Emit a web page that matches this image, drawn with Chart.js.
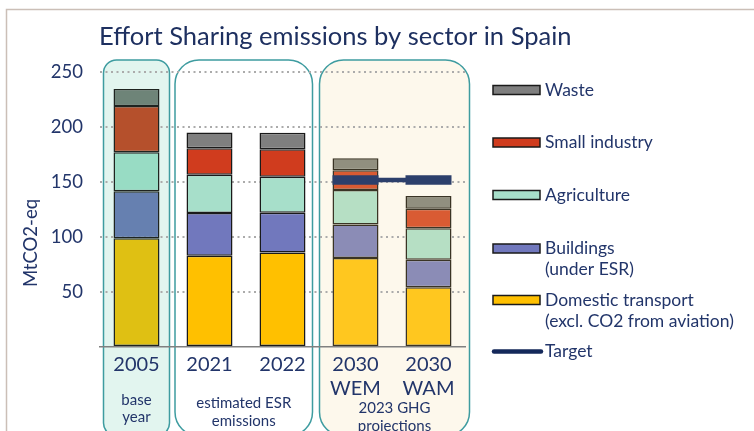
<!DOCTYPE html>
<html>
<head>
<meta charset="utf-8">
<script src="https://cdn.jsdelivr.net/npm/chart.js@4.4.1/dist/chart.umd.min.js"></script>
<style>
  html, body { margin: 0; padding: 0; background: #ffffff; }
  #wrap { width: 754px; height: 431px; position: relative; }
</style>
</head>
<body>
<div id="wrap"><canvas id="c" width="754" height="431"></canvas></div>
<script>
// ---------------- DATA ----------------
const categories = [['2005'], ['2021'], ['2022'], ['2030', 'WEM'], ['2030', 'WAM']];
const seriesNames = ['Domestic transport', 'Buildings', 'Agriculture', 'Small industry', 'Waste'];
const transport     = [98.8, 83.0, 86.0, 81.0, 54.3];
const buildings     = [42.7, 38.8, 36.1, 30.3, 25.1];
const agriculture   = [35.5, 34.9, 32.7, 31.5, 28.5];
const smallIndustry = [42.0, 23.9, 24.9, 17.9, 17.8];
const waste         = [15.5, 14.4, 15.1, 10.9, 11.6];
const target        = [null, null, null, 151.8, 151.8];
const yTicks = [0, 50, 100, 150, 200, 250];
const legendLabels = [
  ['Waste'],
  ['Small industry'],
  ['Agriculture'],
  ['Buildings', '(under ESR)'],
  ['Domestic transport', '(excl. CO2 from aviation)'],
  ['Target']
];
const groupLabels = [['base', 'year'], ['estimated ESR', 'emissions'], ['2023 GHG', 'projections']];
const groupSpans = [[0, 0], [1, 2], [3, 4]];
const titleText = 'Effort Sharing emissions by sector in Spain';
const yTitleText = 'MtCO2-eq';

// ---------------- STYLES ----------------
const NAVY = '#22356a';
const FONT = 'Lato, "Open Sans", sans-serif';
const colTransport = ['#dfc013', '#ffc000', '#ffc000', '#ffc71f', '#ffc71f'];
const colBuildings = ['#6680b0', '#7178bd', '#7178bd', '#8b8cb6', '#8b8cb6'];
const colAgri      = ['#98dcc4', '#a7dfca', '#a7dfca', '#b6dfc4', '#b6dfc4'];
const colSI        = ['#b5502c', '#d03c1e', '#d03c1e', '#d95b33', '#d95b33'];
const colWaste     = ['#6e8478', '#7f7f7f', '#7f7f7f', '#918f7f', '#918f7f'];
const edgeCols     = ['#1e2420', '#1a1a1a', '#1a1a1a', '#3a3425', '#3a3425'];
const legendColors = ['#7f7f7f', '#d03c1e', '#a7dfca', '#7178bd', '#ffc000'];
const legendY = [90, 142.5, 195, 248.5, 300, 351.5];
const boxStyles = [
  { l: -33, r: 33, rad: 13, fill: '#e2f5ef' },
  { l: -34.5, r: 30, rad: 24, fill: '#ffffff' },
  { l: -36, r: 41, rad: 24, fill: '#fdf8ec' }
];
const groupLabelY = [[400, 417], [403, 421], [408, 426]];

function barDS(label, data, colors) {
  return {
    type: 'bar', label, data, backgroundColor: colors, borderColor: edgeCols,
    borderWidth: 1.5, borderSkipped: false, stack: 's', order: 1,
    barPercentage: 0.63, categoryPercentage: 1.0
  };
}

function rr(ctx, x, y, w, h, r) {
  ctx.beginPath();
  ctx.moveTo(x + r, y);
  ctx.lineTo(x + w - r, y);
  ctx.arcTo(x + w, y, x + w, y + r, r);
  ctx.lineTo(x + w, y + h - r);
  ctx.arcTo(x + w, y + h, x + w - r, y + h, r);
  ctx.lineTo(x + r, y + h);
  ctx.arcTo(x, y + h, x, y + h - r, r);
  ctx.lineTo(x, y + r);
  ctx.arcTo(x, y, x + r, y, r);
  ctx.closePath();
}

const decor = {
  id: 'decor',
  beforeDraw(chart) {
    const ctx = chart.ctx;
    const xs = chart.scales.x;
    ctx.save();
    ctx.fillStyle = '#ffffff';
    ctx.fillRect(0, 0, chart.width, chart.height);
    // frame
    ctx.strokeStyle = '#cbbfb7';
    ctx.lineWidth = 1.5;
    ctx.beginPath();
    ctx.moveTo(6.5, 431);
    ctx.lineTo(6.5, 9.5);
    ctx.lineTo(754, 9.5);
    ctx.stroke();
    // group boxes
    groupSpans.forEach((sp, i) => {
      const st = boxStyles[i];
      const x0 = xs.getPixelForValue(sp[0]) + st.l;
      const x1 = xs.getPixelForValue(sp[1]) + st.r;
      rr(ctx, x0, 60, x1 - x0, 376, st.rad);
      ctx.fillStyle = st.fill;
      ctx.fill();
      ctx.strokeStyle = '#3e9ca0';
      ctx.lineWidth = 1.5;
      ctx.stroke();
    });
    ctx.restore();
  },
  afterDraw(chart) {
    const ctx = chart.ctx;
    const xs = chart.scales.x;
    ctx.save();
    // title
    ctx.fillStyle = '#1e3060';
    ctx.font = '400 25.5px ' + FONT;
    ctx.textAlign = 'left';
    ctx.textBaseline = 'alphabetic';
    ctx.fillText(titleText, 99, 45);
    // y title
    ctx.save();
    ctx.translate(31, 243);
    ctx.rotate(-Math.PI / 2);
    ctx.textAlign = 'center';
    ctx.textBaseline = 'middle';
    ctx.font = '400 18.5px ' + FONT;
    ctx.fillStyle = NAVY;
    ctx.fillText(yTitleText, 0, 0);
    ctx.restore();
    // group labels
    ctx.font = '400 15px ' + FONT;
    ctx.fillStyle = NAVY;
    ctx.textAlign = 'center';
    ctx.textBaseline = 'middle';
    groupSpans.forEach((sp, i) => {
      const st = boxStyles[i];
      const x0 = xs.getPixelForValue(sp[0]) + st.l;
      const x1 = xs.getPixelForValue(sp[1]) + st.r;
      groupLabels[i].forEach((t, j) => ctx.fillText(t, (x0 + x1) / 2, groupLabelY[i][j]));
    });
    // legend
    ctx.textAlign = 'left';
    ctx.font = '400 17.5px ' + FONT;
    legendLabels.forEach((lines, i) => {
      const y = legendY[i];
      if (i < legendColors.length) {
        ctx.fillStyle = legendColors[i];
        ctx.fillRect(493, y - 4.5, 47, 9);
        ctx.strokeStyle = '#1a1a1a';
        ctx.lineWidth = 1.5;
        ctx.strokeRect(493, y - 4.5, 47, 9);
      } else {
        ctx.strokeStyle = '#14285a';
        ctx.lineWidth = 4.5;
        ctx.lineCap = 'round';
        ctx.beginPath();
        ctx.moveTo(494, y);
        ctx.lineTo(541, y);
        ctx.stroke();
      }
      ctx.fillStyle = NAVY;
      lines.forEach((t, j) => ctx.fillText(t, 545, y + j * 21));
    });
    ctx.restore();
  }
};

new Chart(document.getElementById('c'), {
  data: {
    labels: categories,
    datasets: [
      {
        type: 'line', label: 'Target', data: target, stack: 't', order: 0,
        borderColor: '#2c3f6b', borderWidth: 4.5, borderCapStyle: 'butt',
        pointStyle: 'line', pointRadius: 23, pointHoverRadius: 23,
        pointBorderWidth: 9.5, pointHoverBorderWidth: 9.5, pointBorderColor: '#2c3f6b',
        pointBackgroundColor: '#2c3f6b', spanGaps: false, fill: false
      },
      barDS(seriesNames[0], transport, colTransport),
      barDS(seriesNames[1], buildings, colBuildings),
      barDS(seriesNames[2], agriculture, colAgri),
      barDS(seriesNames[3], smallIndustry, colSI),
      barDS(seriesNames[4], waste, colWaste)
    ]
  },
  options: {
    responsive: false,
    animation: false,
    events: [],
    layout: { padding: { left: 0, right: 289, top: 72, bottom: 0 } },
    plugins: { legend: { display: false }, title: { display: false }, tooltip: { enabled: false } },
    scales: {
      x: {
        stacked: true,
        grid: { display: false },
        border: { display: true, color: '#808080', width: 1.5 },
        ticks: { color: NAVY, font: { family: FONT, size: 20 }, padding: -2, maxRotation: 0, autoSkip: false },
        afterFit(s) { s.height = 84; }
      },
      y: {
        stacked: true,
        min: 0, max: 250,
        afterBuildTicks(s) { s.ticks = yTicks.map(v => ({ value: v })); },
        grid: {
          drawTicks: false,
          lineWidth: 2,
          color: (c) => (c.tick && c.tick.value === 0) ? 'rgba(0,0,0,0)' : '#ababab'
        },
        border: { display: false, dash: [2, 3.5] },
        ticks: {
          color: NAVY, font: { family: FONT, size: 18.5 }, padding: 17,
          callback: (v) => v === 0 ? '' : String(v)
        },
        afterFit(s) { s.width = 100; }
      }
    }
  },
  plugins: [decor]
});
</script>
</body>
</html>
